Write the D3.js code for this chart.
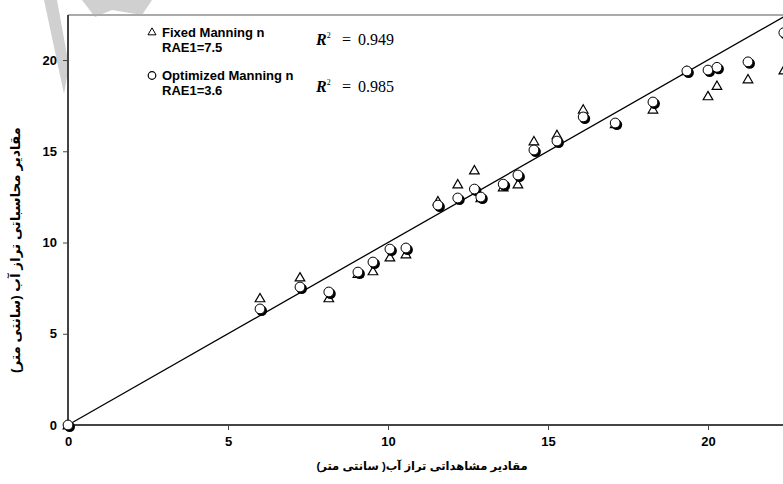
<!DOCTYPE html>
<html>
<head>
<meta charset="utf-8">
<script src="https://cdn.jsdelivr.net/npm/d3@7"></script>
<style>
	body { margin: 0; background: #fff; }
	svg { display: block; font-family: "Liberation Sans", Arial, "DejaVu Sans", sans-serif; }
	.tick text { font-size: 13px; font-weight: bold; fill: #000; }
</style>
</head>
<body>
<svg id="chart" width="783" height="484"></svg>
<script>
// observed vs. computed water level (cm)
var observed  = [0, 6.0, 7.25, 8.15, 9.06, 9.53, 10.06, 10.56, 11.56, 12.18, 12.7, 12.9, 13.6, 14.06, 14.56, 15.28, 16.1, 17.1, 18.28, 19.34, 20.0, 20.28, 21.25, 22.37];
var fixedN    = [0, 6.96, 8.1, 6.96, 8.3, 8.44, 9.2, 9.37, 12.27, 13.2, 13.97, 12.44, 13.04, 13.2, 15.56, 15.9, 17.3, 16.5, 17.3, 19.4, 18.03, 18.6, 18.96, 19.45];
var optimizedN = [0, 6.36, 7.56, 7.29, 8.38, 8.93, 9.64, 9.7, 12.05, 12.44, 12.93, 12.49, 13.2, 13.7, 15.07, 15.56, 16.88, 16.55, 17.7, 19.4, 19.45, 19.6, 19.9, 21.5];
var ticks = [0, 5, 10, 15, 20];
var legendItems = [
	{ symbol: "triangle", label: "Fixed Manning n", rae: "RAE1=7.5", r2: "0.949" },
	{ symbol: "circle", label: "Optimized Manning n", rae: "RAE1=3.6", r2: "0.985" }
];

var svg = d3.select("#chart");

var x = d3.scaleLinear().domain([0, 22.5]).range([68, 788]);
var y = d3.scaleLinear().domain([0, 22.5]).range([425, 14.4]);

// faint watermark in the corner
svg.append("path")
	.attr("d", "M44,0 L57,0 L69,66 L64,94 Z M82,0 L152,0 L142,15 L112,10 L95,17 Z")
	.style("fill", "#d0d0d0");

// frame top
svg.append("line")
	.attr("x1", 68).attr("x2", 783)
	.attr("y1", 15).attr("y2", 15)
	.style("stroke", "#aaa").style("stroke-width", 2);

var xAxis = svg.append("g")
	.attr("transform", "translate(0,425)")
	.call(d3.axisBottom(x).tickValues(ticks).tickSize(5).tickPadding(7));
var yAxis = svg.append("g")
	.attr("transform", "translate(68,0)")
	.call(d3.axisLeft(y).tickValues(ticks).tickSize(5).tickPadding(6));
svg.selectAll(".domain").style("stroke", "#444").style("stroke-width", 2);
svg.selectAll(".tick line").style("stroke", "#444");
// keep axis lines inside visible frame
yAxis.select(".domain").attr("d", "M-5," + y(0) + "H0V15");
xAxis.select(".domain").attr("d", "M" + x(0) + ",0H783");

// 1:1 line
svg.append("line")
	.attr("x1", x(0)).attr("y1", y(0))
	.attr("x2", x(22.5)).attr("y2", y(22.5))
	.style("stroke", "#000").style("stroke-width", 1.3);

var tri = d3.symbol().type(d3.symbolTriangle).size(40);
var pts = observed.map(function(d, i) {
	return { x: d, f: fixedN[i], o: optimizedN[i] };
});

svg.append("g").selectAll("path")
	.data(pts).enter()
	.append("path")
	.attr("d", tri)
	.attr("transform", function(d) { return "translate(" + x(d.x) + "," + (y(d.f) + 1) + ")"; })
	.style("fill", "#fff").style("stroke", "#000").style("stroke-width", 1.2);

function drawCircle(g, cx, cy) {
	g.append("circle").attr("cx", cx + 1.7).attr("cy", cy + 1.7).attr("r", 5.3).style("fill", "#000");
	g.append("circle").attr("cx", cx).attr("cy", cy).attr("r", 4.9)
		.style("fill", "#fff").style("stroke", "#000").style("stroke-width", 1);
}
var circles = svg.append("g");
pts.forEach(function(d) { drawCircle(circles, x(d.x), y(d.o)); });

// legend
var legend = svg.append("g");
legendItems.forEach(function(d, i) {
	var ly = 37 + i * 43;
	if (d.symbol == "triangle") {
		legend.append("path").attr("d", d3.symbol().type(d3.symbolTriangle).size(28))
			.attr("transform", "translate(152," + (ly - 4.5) + ")")
			.style("fill", "none").style("stroke", "#000").style("stroke-width", 1);
	} else {
		legend.append("circle").attr("cx", 152).attr("cy", ly - 4.5).attr("r", 3.8)
			.style("fill", "none").style("stroke", "#000").style("stroke-width", 1.2);
	}
	legend.append("text").attr("x", 162).attr("y", ly)
		.style("font-size", "13px").style("font-weight", "bold").text(d.label);
	legend.append("text").attr("x", 162).attr("y", ly + 15)
		.style("font-size", "13px").style("font-weight", "bold").text(d.rae);
	var r = legend.append("text").attr("y", ly + 8 + i * 4)
		.style("font-family", "'Liberation Serif', 'DejaVu Serif', serif").style("font-size", "16px");
	r.append("tspan").attr("x", 316).style("font-style", "italic").style("font-weight", "bold").text("R");
	r.append("tspan").attr("dy", -7).style("font-size", "8px").text("2");
	r.append("tspan").attr("dy", 7).attr("x", 342).text("=");
	r.append("tspan").attr("x", 358).text(d.r2);
});

// axis titles
svg.append("text")
	.attr("x", 422).attr("y", 470)
	.attr("text-anchor", "middle")
	.style("font-size", "11.5px").style("font-weight", "bold")
	.text("مقادیر مشاهداتی تراز آب( سانتی متر)");
svg.append("text")
	.attr("transform", "translate(20,250) rotate(-90)")
	.attr("text-anchor", "middle")
	.style("font-size", "13.5px").style("font-weight", "bold")
	.text("مقادیر محاسباتی تراز آب (سانتی متر)");
</script>
</body>
</html>
